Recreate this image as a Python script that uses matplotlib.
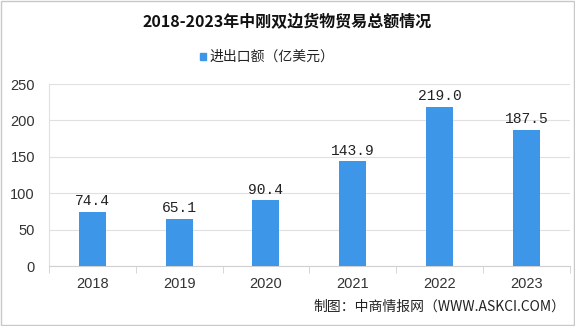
import matplotlib.pyplot as plt
from matplotlib.patches import Rectangle
import numpy as np

plt.rcParams['font.family'] = ['Noto Sans CJK SC', 'DejaVu Sans']

years = ['2018', '2019', '2020', '2021', '2022', '2023']
values = [74.4, 65.1, 90.4, 143.9, 219.0, 187.5]
yticks = [0, 50, 100, 150, 200, 250]

fig = plt.figure(figsize=(5.75, 3.26), dpi=100)
ax = fig.add_axes([0.085, 0.184, 0.906, 0.558])

x = np.arange(len(years))
ax.bar(x, values, width=0.31, color='#3d96e8', zorder=3)
for xi, v in zip(x, values):
    ax.text(xi, v + 5, f'{v:.1f}', ha='center', va='bottom', fontsize=10.5,
            color='#222222', family=['Liberation Mono', 'DejaVu Sans'])

ax.set_xlim(-0.5, len(years) - 0.5)
ax.set_ylim(0, 250)
ax.set_yticks(yticks)
ax.set_yticklabels([str(t) for t in yticks], fontsize=10.5, color='#333333',
                   family=['Liberation Sans', 'DejaVu Sans'])
ax.set_xticks(x)
ax.set_xticklabels(years, fontsize=10.5, color='#333333',
                   family=['Liberation Sans', 'DejaVu Sans'])
ax.tick_params(axis='x', length=0, pad=8)
ax.tick_params(axis='y', length=0, pad=10)
ax.set_xticks(np.arange(-0.5, len(years)), minor=True)
ax.tick_params(axis='x', which='minor', length=5, color='#d0d0d0', direction='out')

ax.grid(axis='y', color='#e0e0e0', linewidth=0.8, zorder=0)
for s in ['top', 'right']:
    ax.spines[s].set_visible(False)
ax.spines['left'].set_color('#e0e0e0')
ax.spines['bottom'].set_color('#d0d0d0')

fig.text(0.5, 0.932, '2018-2023年中刚双边货物贸易总额情况', ha='center', va='center',
         fontsize=11.5, fontweight='bold', color='#111111')
fig.patches.append(Rectangle((0.347, 0.815), 0.012, 0.021, transform=fig.transFigure,
                             color='#3d96e8'))
fig.text(0.365, 0.826, '进出口额（亿美元）', ha='left', va='center', fontsize=10,
         color='#222222')
fig.text(0.983, 0.06, '制图：中商情报网（WWW.ASKCI.COM）', ha='right', va='center',
         fontsize=10, color='#222222')

fig.patches.append(Rectangle((0.001, 0.002), 0.997, 0.995, transform=fig.transFigure,
                             fill=False, edgecolor='#c8c8c8', linewidth=1))

fig.savefig('out.png', dpi=100)
